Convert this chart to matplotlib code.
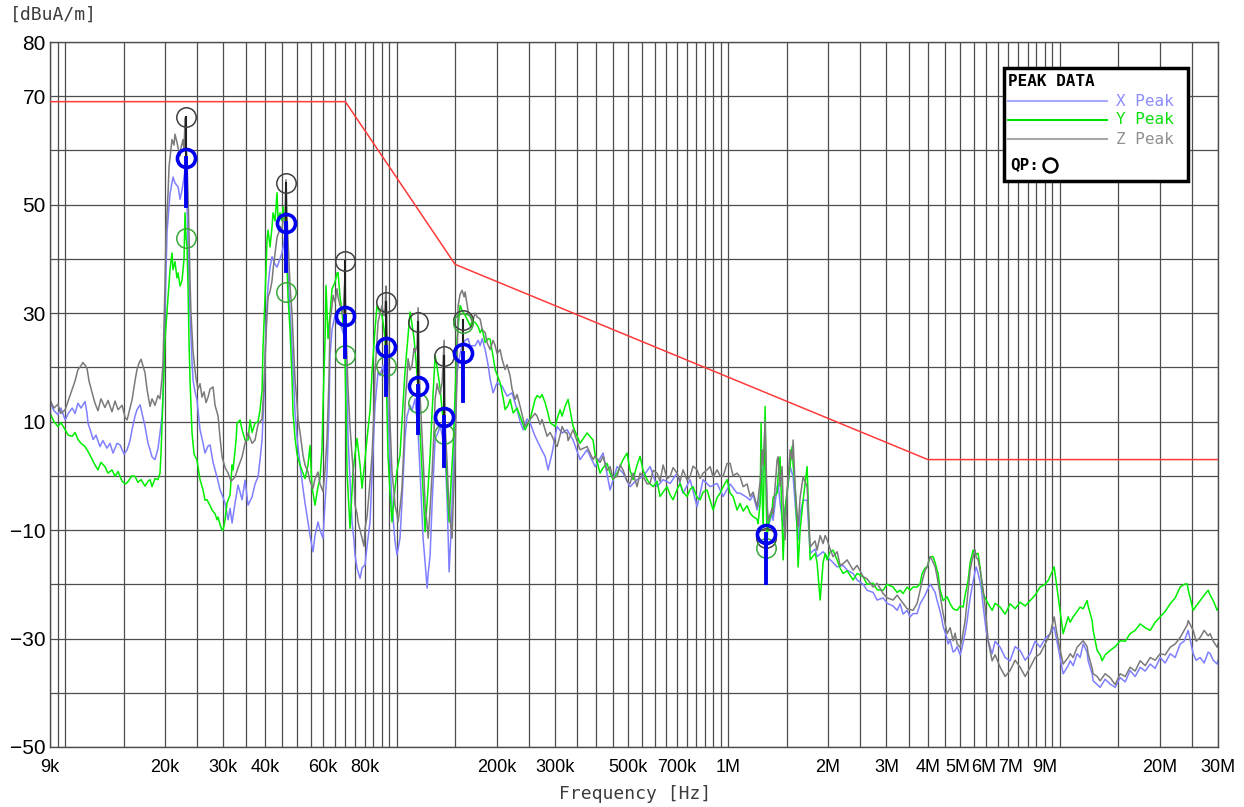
import matplotlib
matplotlib.use('Agg')
import matplotlib.pyplot as plt
from matplotlib.patches import Rectangle
from matplotlib.ticker import NullFormatter

# Emission traces, (frequency in kHz, level in dBuA/m)
x_peak = [
    (9.00, 13.7), (9.25, 12.0), (9.51, 11.3), (9.71, 12.5), (10.0, 10.3), (10.21, 11.5), (10.5, 12.5), (10.71, 11.5),
    (10.93, 13.4), (11.16, 12.5), (11.48, 13.7), (11.64, 11.5), (11.72, 9.7), (11.97, 8.0), (12.14, 6.7), (12.39, 7.5),
    (12.73, 5.4), (13.0, 6.5), (13.37, 5.1), (13.65, 6.0), (13.94, 4.2), (14.34, 6.0), (14.64, 5.7), (15.05, 4.0),
    (15.37, 4.8), (15.69, 6.5), (15.91, 8.5), (16.24, 11.0), (16.47, 12.2), (16.82, 13.1), (17.06, 11.5), (17.41, 9.1),
    (17.78, 6.0), (18.03, 4.8), (18.28, 3.5), (18.66, 3.0), (19.05, 5.0), (19.32, 7.9), (19.59, 11.0), (19.73, 14.7),
    (20.0, 30.0), (20.29, 45.0), (20.71, 52.0), (21.15, 55.1), (21.44, 54.0), (21.90, 53.3), (22.21, 51.0), (22.52, 52.7),
    (22.83, 55.0), (23.15, 58.2), (23.31, 50.0), (23.47, 42.2), (23.80, 30.0), (24.13, 21.0), (24.30, 17.7), (24.64, 15.5),
    (24.98, 14.0), (25.51, 8.5), (26.05, 6.0), (26.41, 4.2), (26.97, 5.5), (27.35, 5.7), (27.93, 2.5), (28.32, 1.1),
    (28.92, -1.0), (29.32, -2.6), (29.73, -3.5), (30.36, -5.0), (31.0, -8.1), (31.43, -6.0), (31.87, -8.7), (32.54, -5.0),
    (33.22, -1.7), (33.69, -3.0), (34.16, -4.4), (34.88, -0.8), (35.61, -5.4), (36.61, -3.9), (37.38, -1.5), (38.17, -0.2),
    (38.70, 3.0), (39.25, 6.6), (39.80, 15.0), (40.35, 28.0), (40.92, 35.0), (41.49, 38.5), (42.07, 40.4), (42.95, 39.0),
    (43.55, 38.5), (44.47, 40.0), (45.09, 41.1), (45.72, 43.0), (46.36, 46.6), (46.69, 42.0), (47.01, 37.4), (47.67, 30.0),
    (48.33, 23.8), (49.01, 16.0), (49.35, 11.6), (50.04, 7.0), (51.10, 2.0), (52.16, -2.3), (52.89, -5.0), (54.00, -8.5),
    (54.76, -11.0), (55.91, -14.0), (56.70, -11.0), (57.89, -8.5), (58.70, -10.0), (59.94, -11.5), (60.78, -5.0), (61.63, 0.7),
    (62.49, 12.0), (62.93, 22.2), (63.81, 27.0), (65.15, 29.6), (66.06, 28.0), (67.46, 28.3), (68.40, 27.0), (69.84, 25.3),
    (70.82, 15.0), (71.31, 6.9), (72.31, -1.0), (73.32, -8.5), (74.35, -12.0), (74.86, -14.6), (75.91, -17.0), (77.51, -18.9),
    (78.59, -17.0), (80.25, -16.4), (81.37, -13.0), (83.08, -8.5), (84.24, 0.0), (86.01, 13.0), (87.21, 17.0), (87.82, 19.1),
    (89.04, 18.5), (90.92, 20.4), (92.19, 18.0), (92.83, 19.0), (94.13, 13.0), (95.44, 3.0), (96.78, -5.4), (98.81, -12.0),
    (100.2, -14.6), (102.3, -11.5), (103.7, -5.0), (105.9, 6.9), (107.4, 11.0), (109.7, 13.0), (111.2, 12.0), (113.6, 14.2),
    (115.2, 10.0), (116.0, 8.0), (117.6, 0.7), (120.1, -11.5), (121.8, -16.0), (123.5, -20.7), (124.4, -18.0), (126.1, -14.6),
    (127.9, -5.0), (130.6, 6.9), (133.3, 8.0), (135.2, 9.3), (137.1, 7.5), (140.0, 3.8), (142.0, -5.0), (143.9, -17.7),
    (145.9, -10.0), (148.0, 0.7), (150.0, 10.0), (152.1, 19.1), (155.3, 22.5), (157.5, 24.0), (160.8, 25.0), (164.2, 25.3),
    (166.5, 24.0), (172.4, 24.0), (176.1, 25.0), (178.5, 24.0), (181.0, 25.3), (184.8, 23.3), (188.7, 20.4), (191.3, 17.8),
    (195.3, 15.3), (200.8, 17.2), (207.9, 16.5), (215.2, 14.7), (222.8, 15.3), (230.7, 12.2), (235.6, 10.0), (240.6, 8.5),
    (247.3, 10.5), (252.5, 9.8), (261.4, 7.3), (270.6, 5.4), (280.2, 3.6), (286.1, 1.1), (294.2, 4.2), (304.6, 9.1),
    (315.4, 7.9), (326.5, 8.5), (340.4, 6.6), (357.3, 3.0), (375.1, 4.8), (396.5, 1.7), (419.2, 4.2), (440.1, -2.6),
    (462.0, 1.7), (481.6, 0.5), (505.6, -2.0), (530.8, -0.7), (553.4, -0.1), (581.1, 1.7), (610.0, -2.0), (636.0, -0.7),
    (667.6, -1.4), (700.9, 0.5), (730.7, -3.2), (767.1, -0.7), (805.3, -5.7), (839.6, -0.7), (881.5, -2.0), (925.4, -1.4),
    (964.9, -3.8), (1013, -1.5), (1063, -3.2), (1086, -3.2), (1140, -4.0), (1164, -4.5), (1188, -3.5), (1222, -6.3),
    (1248, -4.0), (1265, -0.2), (1292, 4.8), (1310, -6.0), (1319, -9.4), (1356, -7.0), (1365, -8.2), (1404, -2.0),
    (1414, -1.4), (1433, -5.0), (1464, -9.4), (1505, -3.0), (1537, 1.7), (1569, -0.2), (1591, -5.0), (1624, -11.8),
    (1647, -7.0), (1682, -4.5), (1729, -4.5), (1766, -14.3), (1828, -13.5), (1853, -14.9), (1932, -14.0), (1987, -14.9),
    (2071, -16.0), (2130, -16.8), (2220, -16.5), (2283, -17.4), (2380, -18.0), (2447, -19.2), (2551, -20.0), (2623, -21.1),
    (2735, -21.5), (2811, -22.9), (2931, -22.5), (3014, -23.5), (3142, -24.0), (3230, -24.8), (3299, -23.6), (3368, -25.5),
    (3463, -24.8), (3536, -26.0), (3610, -25.4), (3712, -25.4), (3790, -23.6), (3924, -22.0), (3980, -21.1), (4063, -20.0),
    (4119, -20.5), (4207, -21.5), (4265, -23.0), (4356, -25.0), (4416, -26.7), (4447, -27.8), (4572, -30.0), (4604, -31.0),
    (4668, -30.3), (4767, -32.5), (4833, -32.2), (4901, -31.5), (5004, -33.0), (5074, -31.6), (5181, -29.0), (5253, -26.7),
    (5364, -22.5), (5440, -20.5), (5554, -17.5), (5594, -16.8), (5671, -18.0), (5791, -20.5), (5872, -24.0), (5995, -28.5),
    (6080, -30.5), (6250, -32.8), (6382, -30.5), (6608, -31.6), (6841, -33.5), (7081, -34.1), (7332, -31.5), (7592, -32.2),
    (7862, -34.0), (8140, -32.8), (8425, -30.5), (8723, -31.6), (9031, -30.0), (9351, -29.1), (9615, -27.9), (9885, -31.6),
    (10235, -36.5), (10597, -35.0), (10744, -34.1), (10971, -35.0), (11278, -32.8), (11516, -33.5), (11759, -31.0), (12091, -32.5),
    (12174, -34.1), (12518, -36.5), (12605, -37.8), (12960, -38.5), (13232, -39.0), (13699, -37.5), (14185, -38.4), (14688, -39.0),
    (15206, -37.2), (15745, -38.0), (16296, -35.9), (16874, -37.0), (17474, -35.3), (18095, -36.0), (18735, -34.7), (19390, -35.5),
    (20075, -33.5), (20786, -34.5), (21524, -32.8), (22282, -33.5), (23067, -31.0), (23720, -30.5), (24390, -28.5), (25250, -32.8),
    (25778, -34.0), (26509, -33.5), (27251, -34.5), (28021, -32.5), (28411, -32.8), (29021, -34.0), (29831, -34.7), (30000, -34.0),
]

y_peak = [
    (9.00, 11.6), (9.25, 10.0), (9.51, 9.1), (9.71, 9.8), (10.0, 8.5), (10.21, 7.5), (10.5, 7.3), (10.71, 8.0),
    (10.93, 6.7), (11.16, 6.0), (11.48, 5.4), (11.72, 4.5), (12.06, 3.0), (12.30, 2.0), (12.56, 1.1), (12.82, 2.5),
    (13.18, 1.7), (13.47, 0.5), (13.84, 1.1), (14.14, -0.1), (14.44, 0.8), (14.85, -1.0), (15.16, -1.5), (15.37, -1.3),
    (15.69, -0.5), (15.91, 0.0), (16.24, -0.1), (16.58, -1.2), (16.94, -0.7), (17.41, -1.9), (17.78, -1.0), (18.03, -0.7),
    (18.28, -2.0), (18.66, -0.5), (19.05, -0.7), (19.32, 0.5), (19.46, 4.2), (19.73, 14.7), (20.0, 25.0), (20.43, 33.0),
    (20.71, 38.0), (21.0, 41.1), (21.15, 38.0), (21.44, 39.5), (21.74, 36.5), (21.90, 37.4), (22.21, 35.0), (22.52, 36.1),
    (22.83, 40.0), (22.99, 48.5), (23.15, 44.0), (23.31, 42.2), (23.47, 35.0), (23.63, 25.0), (23.80, 17.7), (24.13, 8.0),
    (24.47, 4.0), (24.98, 2.9), (25.51, -0.7), (26.05, -2.6), (26.41, -4.5), (26.78, -4.4), (27.35, -5.5), (27.73, -6.3),
    (28.32, -7.0), (28.72, -8.1), (28.92, -7.6), (29.32, -9.0), (29.73, -10.0), (29.94, -10.0), (30.36, -8.1), (30.78, -5.0),
    (31.43, -3.5), (31.87, 2.0), (32.09, 1.1), (32.77, 6.6), (32.99, 9.7), (33.69, 10.3), (34.16, 8.5), (34.88, 6.6),
    (35.61, 6.6), (36.11, 10.3), (36.61, 8.0), (37.38, 9.7), (38.17, 10.0), (38.70, 12.1), (39.25, 15.8), (39.52, 23.8),
    (40.07, 33.0), (40.63, 43.5), (40.92, 45.3), (41.49, 42.2), (42.07, 46.0), (42.36, 48.5), (42.95, 47.0), (43.55, 52.2),
    (43.86, 47.0), (44.47, 48.5), (45.09, 47.0), (45.41, 49.6), (46.04, 47.0), (46.69, 38.5), (47.01, 33.0), (47.67, 26.9),
    (48.33, 18.0), (48.67, 11.6), (49.35, 6.9), (50.04, 4.0), (51.10, 2.0), (52.16, 0.5), (52.89, -0.5), (54.00, 2.0),
    (54.76, 5.6), (55.52, -2.0), (56.70, -5.4), (57.89, -2.0), (58.70, -0.5), (59.52, 5.0), (59.94, 13.0), (60.78, 25.0),
    (61.20, 35.1), (62.06, 25.3), (62.93, 30.0), (63.81, 34.5), (65.15, 35.7), (66.06, 37.4), (66.52, 37.5), (67.46, 33.0),
    (68.40, 30.2), (69.36, 26.0), (69.84, 22.2), (70.82, 0.7), (72.31, -9.7), (73.83, 0.7), (74.86, 4.0), (75.91, 6.9),
    (77.51, 2.0), (78.59, -2.3), (80.25, 3.0), (81.37, 6.9), (83.08, 12.0), (84.24, 19.1), (86.01, 27.0), (87.21, 31.4),
    (89.04, 30.0), (90.29, 29.6), (91.55, 27.0), (92.19, 25.3), (93.48, 12.0), (94.13, 3.8), (95.44, -3.0), (96.78, -8.5),
    (98.81, -2.3), (100.2, 1.0), (102.3, 3.8), (103.7, 10.0), (105.9, 19.1), (108.2, 26.0), (109.7, 30.2), (111.2, 28.0),
    (112.8, 25.3), (114.4, 21.0), (116.0, 16.1), (117.6, 8.0), (119.3, 0.7), (121.8, -10.3), (124.4, -2.0), (126.1, 3.8),
    (127.9, 12.0), (130.6, 22.2), (132.4, 20.0), (135.2, 16.1), (137.1, 12.0), (140.0, 6.9), (142.0, -2.0), (143.9, -8.5),
    (145.9, -1.0), (148.0, 5.6), (150.0, 15.0), (152.1, 25.3), (155.3, 31.4), (157.5, 30.5), (160.8, 29.6), (164.2, 28.5),
    (166.5, 27.7), (168.9, 28.5), (172.4, 28.3), (176.1, 27.5), (178.5, 26.4), (181.0, 27.1), (184.8, 24.6), (188.7, 25.3),
    (191.3, 25.2), (195.3, 22.0), (198.1, 19.6), (205.0, 17.2), (209.3, 14.5), (212.3, 12.2), (216.7, 13.0), (219.8, 14.1),
    (224.4, 11.6), (230.7, 12.5), (235.6, 11.0), (240.6, 9.5), (243.9, 8.5), (252.5, 10.4), (261.4, 14.1), (265.1, 14.8),
    (270.6, 14.4), (274.4, 15.0), (280.2, 13.5), (286.1, 11.5), (290.1, 9.8), (300.4, 9.1), (304.6, 10.5), (311.0, 12.2),
    (315.4, 11.0), (321.9, 12.8), (328.8, 14.1), (340.4, 9.1), (357.3, 6.0), (375.1, 7.9), (391.0, 6.6), (396.5, 4.0),
    (410.5, 0.5), (419.2, 1.5), (430.9, 2.3), (440.1, 0.5), (449.3, -0.7), (462.0, 0.5), (471.7, 1.7), (481.6, 3.0),
    (495.2, 4.2), (505.6, 1.0), (516.3, -0.7), (530.8, 2.0), (542.0, 3.6), (553.4, 1.0), (569.0, -0.7), (581.1, -1.5),
    (593.3, -2.0), (610.0, -1.0), (622.8, -3.8), (636.0, -3.0), (653.8, -2.0), (667.6, -3.5), (681.6, -4.4), (700.9, -2.5),
    (715.7, -1.4), (730.7, -3.0), (751.3, -3.8), (767.1, -2.5), (783.3, -2.0), (805.3, -4.0), (822.4, -4.4), (839.6, -3.0),
    (863.3, -2.6), (881.5, -4.5), (900.0, -6.3), (925.4, -4.0), (944.8, -3.2), (964.9, -2.0), (991.9, -0.7), (1013, -3.2),
    (1034, -3.8), (1063, -6.3), (1086, -5.1), (1109, -6.5), (1140, -5.5), (1164, -6.9), (1188, -7.5), (1222, -8.0),
    (1230, -8.8), (1248, -5.0), (1256, 9.7), (1265, -3.0), (1274, -9.4), (1292, 12.8), (1301, -4.0), (1310, -11.8),
    (1319, -9.0), (1356, -6.3), (1365, -4.0), (1404, -3.2), (1414, 0.0), (1433, 3.5), (1453, -8.0), (1464, -15.5),
    (1484, -6.0), (1515, -1.4), (1537, 2.0), (1558, 5.4), (1569, 2.0), (1591, -2.0), (1613, -10.0), (1624, -16.8),
    (1647, -10.0), (1682, -4.5), (1729, 1.7), (1766, -15.5), (1828, -14.3), (1853, -16.0), (1893, -22.9), (1932, -16.0),
    (1960, -14.3), (1987, -15.5), (2028, -14.0), (2071, -13.7), (2130, -15.5), (2174, -17.0), (2220, -18.0), (2283, -17.5),
    (2380, -19.2), (2447, -18.0), (2551, -18.6), (2623, -20.0), (2735, -19.8), (2811, -21.0), (2931, -21.1), (3014, -20.0),
    (3142, -20.5), (3230, -21.5), (3299, -21.1), (3368, -21.7), (3463, -20.5), (3536, -21.1), (3610, -20.5), (3712, -20.5),
    (3790, -19.9), (3843, -18.0), (3924, -17.0), (3980, -16.8), (4063, -14.9), (4149, -14.9), (4207, -16.0), (4265, -17.4),
    (4295, -18.0), (4356, -21.0), (4447, -23.0), (4572, -22.3), (4668, -23.6), (4767, -24.5), (4901, -24.8), (5004, -24.0),
    (5109, -24.2), (5181, -22.0), (5290, -19.3), (5364, -16.0), (5477, -13.7), (5554, -14.5), (5671, -14.3), (5750, -17.0),
    (5872, -21.7), (5954, -22.5), (6080, -23.6), (6250, -24.8), (6382, -23.5), (6608, -24.2), (6841, -25.5), (7081, -23.6),
    (7332, -24.5), (7592, -23.3), (7862, -24.0), (8140, -23.0), (8425, -22.0), (8723, -20.5), (9031, -20.0), (9222, -19.3),
    (9351, -18.5), (9615, -16.8), (9885, -22.3), (10235, -29.1), (10597, -26.0), (10744, -27.0), (10971, -26.0), (11278, -25.0),
    (11516, -24.2), (11759, -24.5), (12091, -23.0), (12174, -24.0), (12518, -26.7), (12605, -28.5), (12960, -32.2), (13232, -33.0),
    (13419, -34.1), (13699, -33.0), (14185, -32.2), (14688, -31.5), (15206, -30.4), (15745, -30.5), (16296, -29.1), (16874, -28.5),
    (17474, -27.3), (18095, -28.0), (18735, -28.5), (19390, -27.0), (20075, -26.0), (20786, -25.0), (21524, -23.6), (22282, -22.5),
    (23067, -20.5), (23720, -20.0), (24222, -19.9), (24390, -21.0), (25250, -24.8), (25778, -24.0), (26509, -23.0), (27251, -22.0),
    (28021, -21.1), (28411, -22.0), (29021, -23.0), (29831, -24.8), (30000, -24.5),
]

z_peak = [
    (9.00, 14.0), (9.25, 12.5), (9.51, 13.2), (9.71, 11.5), (10.0, 12.2), (10.21, 13.8), (10.5, 15.9), (10.71, 17.5),
    (10.93, 19.6), (11.16, 20.3), (11.31, 20.9), (11.48, 20.4), (11.64, 19.8), (11.80, 17.5), (12.06, 15.3), (12.30, 13.4),
    (12.56, 12.0), (12.82, 14.2), (13.18, 12.6), (13.47, 13.9), (13.84, 11.8), (14.14, 13.8), (14.44, 12.2), (14.85, 13.0),
    (15.16, 10.8), (15.37, 10.3), (15.69, 12.5), (15.91, 14.0), (16.24, 17.5), (16.47, 19.6), (16.70, 20.8), (16.94, 21.5),
    (17.18, 20.2), (17.41, 19.0), (17.65, 16.0), (18.03, 12.8), (18.28, 14.2), (18.66, 13.0), (19.05, 14.8), (19.32, 14.2),
    (19.59, 18.0), (19.73, 21.0), (20.0, 35.0), (20.15, 45.0), (20.43, 52.0), (20.57, 57.0), (20.86, 60.5), (21.0, 62.0),
    (21.29, 61.0), (21.44, 63.0), (21.74, 61.5), (21.90, 60.5), (22.21, 59.0), (22.36, 60.5), (22.67, 62.0), (22.83, 60.0),
    (22.99, 66.0), (23.15, 61.0), (23.31, 58.0), (23.47, 52.0), (23.63, 45.0), (23.80, 36.0), (23.96, 30.0), (24.30, 23.0),
    (24.64, 19.5), (24.81, 18.0), (25.15, 16.0), (25.51, 17.0), (25.87, 14.5), (26.23, 15.5), (26.60, 13.5), (26.97, 14.5),
    (27.35, 16.0), (27.93, 16.4), (28.32, 13.0), (28.92, 11.0), (29.32, 7.0), (29.73, 3.5), (30.36, 1.5), (31.0, 0.5),
    (31.65, -1.0), (32.54, -0.2), (33.22, 1.5), (34.16, 3.5), (34.88, 6.0), (35.61, 7.9), (36.61, 6.0), (37.38, 6.6),
    (38.17, 9.5), (39.25, 10.5), (39.80, 17.0), (40.35, 26.0), (40.92, 33.0), (41.49, 34.0), (42.07, 36.0), (42.36, 38.0),
    (42.95, 41.0), (43.55, 44.0), (44.16, 45.0), (44.47, 46.0), (45.09, 45.5), (45.41, 47.0), (46.04, 48.5), (46.36, 54.6),
    (46.69, 48.0), (47.01, 43.5), (47.67, 35.0), (48.33, 30.0), (49.01, 22.0), (49.35, 17.7), (50.04, 13.5), (50.39, 10.5),
    (51.10, 8.0), (52.16, 3.8), (52.89, 2.0), (54.00, 0.7), (54.76, -1.0), (55.91, -2.3), (56.70, -0.5), (57.89, 0.7),
    (58.70, -1.5), (59.94, -2.9), (60.78, 1.0), (61.63, 6.9), (62.49, 18.0), (62.93, 28.3), (63.81, 31.5), (64.26, 33.3),
    (65.15, 32.0), (66.06, 34.5), (66.52, 33.0), (67.46, 31.4), (68.40, 30.5), (68.88, 29.6), (69.84, 37.0), (70.33, 27.0),
    (71.31, 16.1), (72.31, 9.0), (73.32, 3.8), (74.35, -1.0), (74.86, -5.4), (75.91, -7.0), (76.44, -8.5), (77.51, -10.0),
    (78.59, -11.5), (79.69, -13.0), (80.25, -9.7), (81.37, -7.5), (81.94, -5.4), (83.08, -1.0), (84.24, 3.8), (85.42, 12.0),
    (86.01, 19.1), (87.21, 25.0), (87.82, 28.3), (89.04, 30.0), (90.29, 31.4), (91.55, 29.5), (92.19, 30.8), (92.83, 35.0),
    (93.48, 27.0), (94.13, 22.2), (95.44, 10.0), (96.78, 0.7), (98.13, -3.0), (98.81, -5.4), (100.2, -7.0), (100.9, -8.5),
    (102.3, -6.0), (103.7, -2.3), (105.2, 6.0), (105.9, 13.0), (107.4, 18.0), (108.2, 21.6), (109.7, 19.5), (111.2, 20.4),
    (112.8, 23.5), (113.6, 22.8), (115.2, 24.0), (116.0, 31.0), (116.8, 22.0), (117.6, 15.0), (119.3, 6.9), (121.0, -1.0),
    (121.8, -5.4), (123.5, -9.0), (124.4, -11.5), (126.1, -6.0), (127.9, 0.7), (129.7, 9.0), (130.6, 14.2), (132.4, 17.0),
    (133.3, 16.1), (135.2, 15.0), (137.1, 17.3), (139.0, 25.0), (140.0, 9.3), (142.0, 2.0), (142.9, -2.3), (144.9, -8.0),
    (146.9, -11.5), (148.0, -5.0), (150.0, 3.8), (152.1, 20.0), (153.2, 31.4), (155.3, 33.5), (157.5, 34.2), (159.7, 33.0),
    (160.8, 33.9), (163.1, 31.5), (164.2, 30.2), (166.5, 29.5), (168.9, 28.3), (172.4, 30.0), (174.9, 29.3), (178.5, 28.9),
    (181.0, 27.0), (184.8, 26.4), (187.4, 24.5), (191.3, 23.3), (195.3, 25.0), (198.1, 24.0), (200.8, 22.5), (205.0, 23.3),
    (207.9, 21.5), (212.3, 19.6), (215.2, 20.5), (219.8, 18.4), (222.8, 16.0), (227.5, 14.1), (230.7, 15.0), (235.6, 12.8),
    (240.6, 10.5), (243.9, 9.1), (252.5, 10.4), (261.4, 11.5), (265.1, 11.0), (270.6, 9.5), (274.4, 10.4), (280.2, 8.5),
    (284.1, 7.3), (290.1, 8.0), (294.2, 7.3), (300.4, 6.0), (304.6, 5.4), (311.0, 7.5), (315.4, 9.1), (321.9, 8.0),
    (326.5, 7.9), (328.8, 6.5), (340.4, 8.5), (357.3, 4.8), (375.1, 5.4), (391.0, 3.0), (396.5, 3.6), (410.5, 2.5),
    (419.2, 3.6), (430.9, 1.0), (440.1, 1.7), (449.3, -0.5), (462.0, -0.1), (471.7, 2.0), (481.6, 1.1), (495.2, -1.0),
    (505.6, -1.4), (516.3, 0.5), (530.8, -2.0), (542.0, 0.5), (553.4, -0.1), (569.0, -1.5), (581.1, -1.4), (593.3, 1.0),
    (610.0, 0.5), (622.8, -1.0), (636.0, 2.0), (653.8, -0.5), (667.6, -0.1), (681.6, 1.5), (700.9, 0.5), (715.7, -1.0),
    (730.7, 1.1), (751.3, -0.8), (767.1, -0.1), (783.3, 1.8), (805.3, 1.1), (822.4, -0.5), (839.6, 0.5), (863.3, 1.1),
    (881.5, 1.7), (900.0, -0.2), (925.4, 1.1), (944.8, 0.0), (964.9, -0.1), (991.9, 2.3), (1013, 2.3), (1034, 0.0),
    (1063, 0.5), (1086, -0.2), (1109, -2.0), (1140, -1.5), (1164, -3.8), (1188, -3.0), (1222, -5.7), (1248, -1.0),
    (1265, 4.8), (1274, 2.0), (1292, 10.0), (1301, 2.0), (1310, -5.0), (1319, -8.2), (1356, -6.0), (1365, -7.0),
    (1404, 3.0), (1414, 3.5), (1433, -2.0), (1453, 1.7), (1464, -5.0), (1484, -11.8), (1505, -3.0), (1537, 4.8),
    (1558, 3.0), (1569, 6.6), (1591, -2.0), (1624, -9.4), (1647, -4.0), (1682, -0.2), (1729, -2.0), (1766, -13.1),
    (1828, -12.0), (1853, -13.7), (1893, -11.0), (1932, -12.5), (1960, -11.0), (1987, -11.8), (2028, -13.5), (2071, -14.9),
    (2130, -14.0), (2174, -16.5), (2220, -16.2), (2283, -15.5), (2380, -17.4), (2447, -16.5), (2551, -18.6), (2623, -19.0),
    (2735, -20.5), (2811, -19.8), (2931, -21.7), (3014, -22.5), (3142, -22.9), (3230, -22.0), (3368, -23.5), (3463, -24.5),
    (3610, -24.8), (3712, -23.5), (3790, -21.1), (3843, -19.5), (3924, -17.4), (3980, -16.8), (4063, -14.9), (4119, -15.5),
    (4207, -16.8), (4265, -18.6), (4356, -22.0), (4447, -25.4), (4572, -29.1), (4668, -28.0), (4767, -30.4), (4833, -29.0),
    (4901, -31.0), (5004, -31.6), (5074, -30.0), (5181, -26.7), (5253, -23.0), (5364, -17.4), (5440, -15.5), (5554, -13.7),
    (5594, -15.0), (5671, -15.5), (5750, -17.4), (5872, -21.0), (5954, -24.2), (6080, -30.4), (6250, -34.1), (6382, -33.0),
    (6608, -35.3), (6841, -37.0), (7081, -35.9), (7332, -34.0), (7592, -35.3), (7862, -37.0), (8140, -35.3), (8425, -33.5),
    (8723, -32.8), (9031, -31.0), (9351, -29.1), (9615, -26.0), (9885, -30.4), (10235, -34.7), (10597, -33.5), (10744, -32.8),
    (10971, -33.5), (11278, -31.6), (11516, -31.0), (11759, -30.4), (12091, -31.5), (12174, -32.8), (12518, -35.5), (12605, -36.5),
    (12960, -37.0), (13232, -37.8), (13699, -36.5), (14185, -37.2), (14688, -38.5), (15206, -36.5), (15745, -37.0), (16296, -35.3),
    (16874, -36.0), (17474, -34.1), (18095, -35.0), (18735, -33.5), (19390, -34.0), (20075, -32.8), (20786, -33.0), (21524, -31.6),
    (22282, -31.0), (23067, -29.8), (23720, -28.5), (24222, -27.5), (24390, -26.7), (25250, -28.5), (25778, -30.5), (26509, -29.8),
    (27251, -28.5), (28021, -29.5), (28411, -29.1), (29021, -30.5), (29831, -31.6), (30000, -31.0),
]

# Limit line (kHz, dBuA/m)
limit_freq = [9, 70, 150, 4000, 30000]
limit_level = [69, 69, 39, 3, 3]

# Quasi-peak markers (kHz) and levels for X, Y, Z; X stems go down to x_low
qp_freq = [23.1, 46.4, 69.8, 92.9, 116.0, 138.9, 158.6, 1301]
qp_x = [58.6, 46.6, 29.5, 23.8, 16.6, 10.8, 22.6, -10.7]
qp_x_low = [49.8, 37.8, 22.0, 14.9, 7.9, 1.8, 13.8, -19.8]
qp_y = [43.9, 33.9, 22.3, 20.3, 13.4, 7.7, 28.2, -13.3]
qp_z = [66.2, 54.0, 39.6, 32.1, 28.4, 22.1, 28.7, -11.5]

# Axis ticks
x_tick_hz = [9e3, 20e3, 30e3, 40e3, 60e3, 80e3, 200e3, 300e3, 500e3, 700e3, 1e6,
             2e6, 3e6, 4e6, 5e6, 6e6, 7e6, 9e6, 20e6, 30e6]
x_tick_labels = ['9k', '20k', '30k', '40k', '60k', '80k', '200k', '300k', '500k', '700k', '1M',
                 '2M', '3M', '4M', '5M', '6M', '7M', '9M', '20M', '30M']
y_ticks = [80, 70, 50, 30, 10, -10, -30, -50]

col_x = '#7f7fff'
col_y = '#00ee00'
col_z = '#7a7a7a'
mono = 'DejaVu Sans Mono'
sans = 'Liberation Sans'

fig = plt.figure(figsize=(12.44, 8.07), dpi=100)
ax = fig.add_axes([50 / 1244, 60 / 807, 1168 / 1244, 705 / 807])
ax.set_xscale('log')
ax.set_xlim(9e3, 30e6)
ax.set_ylim(-50, 80)

# grid: every half step of each decade, every 10 dB
grid_x = [k * 0.5 * dec for dec in (1e3, 1e4, 1e5, 1e6, 1e7) for k in range(2, 20)]
grid_x = [g for g in grid_x if 9e3 <= g <= 30e6]
ax.set_xticks(grid_x, minor=True)
ax.set_xticks(x_tick_hz)
ax.set_xticklabels([])
ax.xaxis.set_minor_formatter(NullFormatter())
ax.set_yticks(list(range(-50, 81, 10)), minor=True)
ax.set_yticks(y_ticks)
ax.set_yticklabels([str(v).replace('-', '\u2212') for v in y_ticks], fontsize=15, family=sans)
ax.tick_params(which='both', length=0)
ax.tick_params(axis='y', pad=3)
ax.grid(True, which='both', color='#4d4d4d', lw=0.9)
ax.set_axisbelow(True)
for s in ax.spines.values():
    s.set_color('#4d4d4d')
    s.set_linewidth(1.0)

# x tick labels, the crowded 5M/6M/7M nudged apart a little
nudge = {'5M': -1.5, '6M': -2.2, '7M': 1.6}
for fh, lab in zip(x_tick_hz, x_tick_labels):
    ax.annotate(lab, xy=(fh, 0), xycoords=('data', 'axes fraction'),
                xytext=(nudge.get(lab, 0), -9), textcoords='offset points',
                ha='center', va='top', fontsize=13, family=sans)

# traces
for trace, col in ((x_peak, col_x), (y_peak, col_y), (z_peak, col_z)):
    f = [p[0] * 1e3 for p in trace]
    v = [p[1] for p in trace]
    ax.plot(f, v, color=col, lw=1.1, zorder=2)

ax.plot([f * 1e3 for f in limit_freq], limit_level, color='#ff3a3a', lw=1.1, zorder=3)

# QP markers
for i, fq in enumerate(qp_freq):
    fh = fq * 1e3
    ax.plot([fh, fh], [qp_z[i], qp_x[i]], color='#202020', lw=1.5, zorder=4)
    ax.plot(fh, qp_z[i], 'o', ms=14, mfc='none', mec='#404040', mew=1.1, zorder=4)
    ax.plot(fh, qp_y[i], 'o', ms=14, mfc='none', mec='#38a838', mew=1.1, zorder=4)
    ax.plot([fh, fh], [qp_x[i], qp_x_low[i]], color='#0000ee', lw=2.8, zorder=5)
    ax.plot(fh, qp_x[i], 'o', ms=13, mfc='none', mec='#0000ee', mew=2.6, zorder=5)

# legend box
ax.add_patch(Rectangle((0.8168, 0.8028), 0.1575, 0.1603, transform=ax.transAxes,
                       facecolor='white', edgecolor='black', lw=2.5, zorder=6))
ax.text(0.8202, 0.9433, 'PEAK DATA', transform=ax.transAxes, fontsize=11.5,
        family=mono, weight='bold', va='center', ha='left', zorder=7)
legend_rows = [('X Peak', '#a8a8ff', '#8c8cff', 0.9163),
               ('Y Peak', '#00e000', '#10e010', 0.8894),
               ('Z Peak', '#a8a8a8', '#909090', 0.8624)]
for name, lc, tc, yy in legend_rows:
    ax.plot([0.8202, 0.9050], [yy, yy], color=lc, lw=1.5, transform=ax.transAxes, zorder=7)
    ax.text(0.9620, yy, name, color=tc, transform=ax.transAxes, fontsize=11.5,
            family=mono, va='center', ha='right', zorder=7)
ax.text(0.8219, 0.8255, 'QP:', transform=ax.transAxes, fontsize=11.5, family=mono,
        weight='bold', va='center', ha='left', zorder=7)
ax.plot(0.8565, 0.8255, 'o', ms=10, mfc='none', mec='black', mew=1.8,
        transform=ax.transAxes, zorder=7)

# axis titles
fig.text(10 / 1244, 1 - 6 / 807, '[dBuA/m]', fontsize=13, family=mono,
         color='#3c3c3c', va='top', ha='left')
fig.text(635 / 1244, 1 - 794 / 807, 'Frequency [Hz]', fontsize=13, family=mono,
         color='#3c3c3c', va='center', ha='center')

fig.savefig('out.png', dpi=100)
